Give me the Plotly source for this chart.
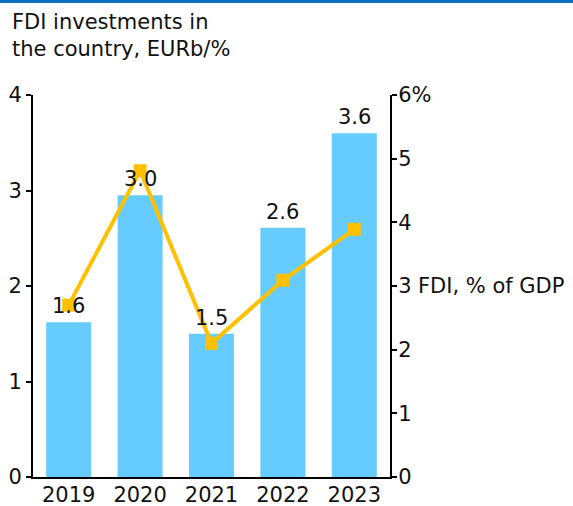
import plotly.graph_objects as go

# FDI in the country
years = ["2019", "2020", "2021", "2022", "2023"]
fdi_eurb = [1.62, 2.95, 1.50, 2.61, 3.60]
fdi_labels = ["1.6", "3.0", "1.5", "2.6", "3.6"]
fdi_pct_gdp = [2.70, 4.81, 2.10, 3.09, 3.89]

left_ticks = [0, 1, 2, 3, 4]
right_ticks = [0, 1, 2, 3, 4, 5, 6]
right_ticktext = ["0", "1", "2", "3", "4", "5", "6%"]

FONT = "Verdana, DejaVu Sans, sans-serif"
BAR = "#66CCFF"
LINE = "#FFC000"
TXT = "#111111"
FS = 21

# plot area size in px (for placing paper-ref items)
PW, PH = 357, 382
L, T = 33, 95

fig = go.Figure()

fig.add_trace(go.Bar(x=years, y=fdi_eurb, marker=dict(color=BAR, line=dict(width=0)),
                     width=0.63, hoverinfo="skip", showlegend=False))

fig.add_trace(go.Scatter(x=years, y=fdi_pct_gdp, yaxis="y2", mode="lines+markers",
                         line=dict(color=LINE, width=4),
                         marker=dict(symbol="square", size=13, color=LINE),
                         showlegend=False, hoverinfo="skip"))

# value labels above the bars, drawn on top of the line
# (category axis: annotation x is the category index)
for i, (v, t) in enumerate(zip(fdi_eurb, fdi_labels)):
    fig.add_annotation(x=i, y=v, xref="x", yref="y", text=t, showarrow=False,
                       yanchor="bottom", yshift=2,
                       font=dict(family=FONT, size=FS, color=TXT))

fig.update_layout(
    width=573, height=506,
    margin=dict(l=L, r=183, t=T, b=29),
    plot_bgcolor="white", paper_bgcolor="white",
    font=dict(family=FONT, size=FS, color=TXT),
    xaxis=dict(type="category", range=[-0.5, 4.5], showline=True, linecolor="black",
               linewidth=2, ticks="", tickfont=dict(size=FS), showgrid=False,
               automargin=False, ticklabelstandoff=-2),
    yaxis=dict(range=[0, 4], tickvals=left_ticks, showline=True, linecolor="black",
               linewidth=2, ticks="outside", ticklen=5, tickwidth=2, tickcolor="black",
               showgrid=False, zeroline=False, tickfont=dict(size=FS), automargin=False),
    yaxis2=dict(range=[0, 6], overlaying="y", side="right", tickvals=right_ticks,
                ticktext=right_ticktext, showline=True, linecolor="black", linewidth=2,
                ticks="outside", ticklen=5, tickwidth=2, tickcolor="black",
                showgrid=False, zeroline=False, tickfont=dict(size=FS), automargin=False,
                ticklabelstandoff=-3),
)

# title top-left
fig.add_annotation(xref="paper", yref="paper", x=-L / PW, y=1 + T / PH, xshift=10, yshift=-8,
                   xanchor="left", yanchor="top", align="left", showarrow=False,
                   text="FDI investments in<br>the country, EURb/%",
                   font=dict(family=FONT, size=FS, color=TXT))

# right axis label
fig.add_annotation(xref="paper", yref="y2", x=1, y=3, xanchor="left", xshift=26,
                   showarrow=False, text="FDI, % of GDP",
                   font=dict(family=FONT, size=FS, color=TXT))

# blue rule across top
fig.add_shape(type="rect", xref="paper", yref="paper", x0=-L / PW, x1=(573 - L) / PW,
              y0=1 + (T - 3) / PH, y1=1 + T / PH, line=dict(width=0), fillcolor="#0A70C0")

# drop the default page margin so the figure sits at the window corner
fig.write_html("out.html", config={"displayModeBar": False},
               post_script="document.body.style.margin='0';")
